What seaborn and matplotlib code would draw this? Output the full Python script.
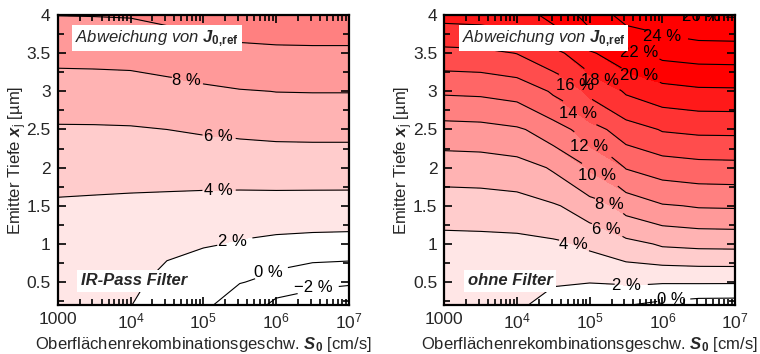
import matplotlib
matplotlib.use('Agg')
import matplotlib.pyplot as plt
from matplotlib import ticker
import seaborn as sns

# simulation grid: surface recombination velocity S0 [cm/s] and emitter depth xj [um]
s0_values = [1e3, 3.16e3, 1e4, 3.16e4, 1e5, 3.16e5, 1e6, 3.16e6, 1e7]
depth_values = [0.2, 0.5, 1.0, 1.5, 2.0, 2.5, 3.0, 3.5, 4.0]

# deviation of J0 from J0,ref [%] -- rows: depth, columns: S0
dev_ir_pass = [
    [2.70, 2.55, 2.02, 1.15, 0.25, -1.18, -2.50, -3.50, -3.80],
    [2.90, 2.80, 2.25, 1.39, 0.90, 0.08, -0.83, -1.48, -1.69],
    [3.20, 3.15, 3.00, 2.48, 2.13, 1.79, 1.56, 1.43, 1.37],
    [3.77, 3.70, 3.63, 3.56, 3.45, 3.38, 3.36, 3.33, 3.32],
    [4.80, 4.77, 4.74, 4.75, 4.81, 4.88, 4.95, 4.97, 4.97],
    [5.82, 5.83, 5.87, 6.00, 6.21, 6.37, 6.49, 6.52, 6.52],
    [7.14, 7.17, 7.22, 7.43, 7.70, 7.91, 8.03, 8.06, 8.06],
    [8.56, 8.59, 8.65, 8.91, 9.25, 9.54, 9.65, 9.68, 9.68],
    [10.03, 10.06, 10.12, 10.42, 10.81, 11.18, 11.26, 11.29, 11.29],
]
dev_no_filter = [
    [2.50, 2.45, 2.15, 1.40, 0.74, 0.05, -0.55, -0.90, -0.95],
    [2.90, 2.85, 2.70, 2.15, 2.05, 2.30, 2.18, 2.21, 2.20],
    [3.40, 3.45, 3.51, 3.72, 4.44, 5.50, 6.30, 6.54, 6.60],
    [5.07, 5.12, 5.26, 5.83, 7.26, 8.87, 9.86, 10.19, 10.26],
    [6.94, 7.02, 7.29, 8.29, 10.31, 12.12, 13.03, 13.33, 13.40],
    [9.32, 9.42, 9.79, 11.25, 13.39, 15.23, 16.18, 16.47, 16.50],
    [12.30, 12.42, 12.85, 14.33, 16.61, 18.28, 19.31, 19.66, 19.70],
    [15.47, 15.60, 16.06, 17.56, 19.80, 21.67, 22.63, 22.94, 23.00],
    [18.71, 18.84, 19.29, 20.80, 23.10, 24.87, 25.80, 26.13, 26.20],
]

lines_ir_pass = [-2, 0, 2, 4, 6, 8, 10]
labels_ir_pass = [-2, 0, 2, 4, 6, 8]
lines_no_filter = [0, 2, 4, 6, 8, 10, 12, 14, 16, 18, 20, 22, 24, 26]

x_ticks = [1e3, 1e4, 1e5, 1e6, 1e7]
x_ticklabels = ['1000', r'$10^{4}$', r'$10^{5}$', r'$10^{6}$', r'$10^{7}$']

# where the contour labels sit (data coords)
pos_ir_pass = [(3.2e6, 0.45), (8.0e5, 0.60), (2.5e5, 1.02), (1.6e5, 1.70),
               (1.6e5, 2.40), (5.9e4, 3.13)]
pos_no_filter = [(1.32e6, 0.30), (3.2e5, 0.46), (6.0e4, 0.99), (1.66e5, 1.16),
                 (1.74e5, 1.46), (1.26e5, 1.90), (1.02e5, 2.30), (7.1e4, 2.73),
                 (6.0e4, 3.04), (1.41e5, 3.16), (4.6e5, 3.16), (4.5e5, 3.42),
                 (1.0e6, 3.70), (3.4e6, 3.98)]


def band_colors(levels):
    # white below 2 %, then lighter -> full red at 20 %
    cols = []
    for lo in levels[:-1]:
        if lo < 2:
            cols.append((1.0, 1.0, 1.0))
        else:
            g = max(0.0, 1.0 - lo / 20.0)
            cols.append((1.0, g, g))
    return cols


def pct(v):
    return f'{v:.0f} %'.replace('-', '\u2212')


sns.set_theme(style='ticks')
plt.rcParams['font.family'] = ['Liberation Sans', 'DejaVu Sans']
plt.rcParams['mathtext.fontset'] = 'custom'
plt.rcParams['mathtext.rm'] = 'Liberation Sans'
plt.rcParams['mathtext.it'] = 'Liberation Sans:italic'
plt.rcParams['mathtext.bf'] = 'Liberation Sans:bold'
plt.rcParams['mathtext.bfit'] = 'Liberation Sans:bold:italic'
plt.rcParams['font.size'] = 12


def draw_panel(ax, z, line_levels, label_levels, label_pos, fill_top, box_text):
    ax.set_xscale('log')
    ax.set_xlim(1e3, 1e7)
    ax.set_ylim(0.2, 4.0)
    ax.set_axisbelow(False)

    fill_levels = [-10] + list(range(2, fill_top + 1, 2))
    ax.contourf(s0_values, depth_values, z, levels=fill_levels,
                colors=band_colors(fill_levels))
    cs = ax.contour(s0_values, depth_values, z, levels=line_levels,
                    colors='black', linewidths=0.8, negative_linestyles='solid')
    txts = ax.clabel(cs, levels=label_levels, fmt=pct, manual=label_pos,
                     inline=True, inline_spacing=2, fontsize=12)
    for t in txts:
        t.set_rotation(0)
        t.set_clip_on(True)

    ax.set_xticks(x_ticks)
    ax.set_xticklabels(x_ticklabels)
    ax.xaxis.set_minor_locator(ticker.LogLocator(base=10, subs=range(2, 10)))
    ax.xaxis.set_minor_formatter(ticker.NullFormatter())
    ax.yaxis.set_major_locator(ticker.MultipleLocator(0.5))
    ax.yaxis.set_minor_locator(ticker.MultipleLocator(0.25))
    ax.yaxis.set_major_formatter(ticker.FormatStrFormatter('%g'))
    ax.tick_params(which='both', direction='in', top=True, right=True,
                   labelsize=12.5, color='black', width=1.2)
    ax.tick_params(which='major', length=6, pad=5)
    ax.tick_params(which='minor', length=4)
    for sp in ax.spines.values():
        sp.set_linewidth(1.6)
        sp.set_color('black')
        sp.set_zorder(5)

    ax.set_xlabel(r'Oberflächenrekombinationsgeschw. $\mathbfit{S}_{\mathbf{0}}$ [cm/s]',
                  fontsize=12, labelpad=2)
    ax.set_ylabel(r'Emitter Tiefe $\mathbfit{x}_{\mathrm{j}}$ [µm]', fontsize=12)
    ax.yaxis.set_label_coords(-0.10, 0.5)

    ax.text(0.06, 0.92, r'Abweichung von $\mathbfit{J}_{\mathbf{0,\!ref}}$',
            transform=ax.transAxes, ha='left', va='center', fontsize=12,
            style='italic', zorder=6,
            bbox=dict(facecolor='white', edgecolor='none', pad=2))
    ax.text(0.08, 0.083, box_text, transform=ax.transAxes, ha='left',
            va='center', fontsize=12, style='italic', weight='bold', zorder=6,
            bbox=dict(facecolor='white', edgecolor='none', pad=2.5))


fig = plt.figure(figsize=(7.6, 3.54), dpi=100)
ax_l = fig.add_axes([0.0759, 0.1384, 0.3833, 0.8192])
ax_r = fig.add_axes([0.5846, 0.1384, 0.3826, 0.8192])

draw_panel(ax_l, dev_ir_pass, lines_ir_pass, labels_ir_pass, pos_ir_pass, 14,
           'IR-Pass Filter')
draw_panel(ax_r, dev_no_filter, lines_no_filter, lines_no_filter, pos_no_filter, 30,
           'ohne Filter')

fig.savefig('out.png', dpi=100)
